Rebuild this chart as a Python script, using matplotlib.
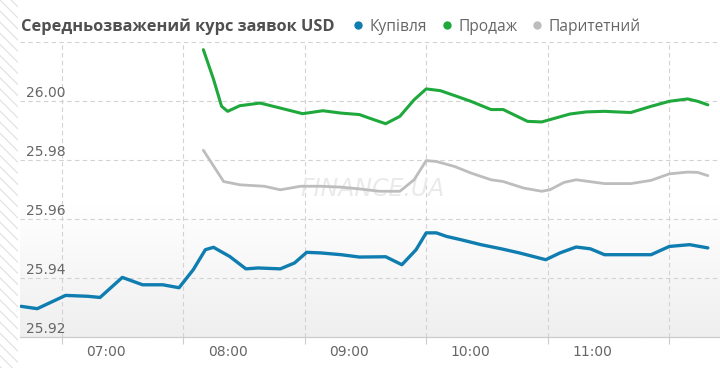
import matplotlib.pyplot as plt
import matplotlib.transforms as mtransforms
from matplotlib.patches import Rectangle
from matplotlib.colors import LinearSegmentedColormap
import numpy as np

# ---- data ----
buy_time = ["06:18", "06:26", "06:40", "06:51", "06:57", "07:08", "07:18", "07:28", "07:36",
            "07:43", "07:49", "07:53", "08:01", "08:09", "08:15", "08:26", "08:33", "08:39",
            "08:46", "08:56", "09:05", "09:18", "09:26", "09:33", "09:38", "09:43", "09:48",
            "09:55", "10:05", "10:15", "10:24", "10:37", "10:44", "10:52", "10:59", "11:06",
            "11:19", "11:29", "11:38", "11:48", "11:57"]
buy_rate = [25.9304, 25.9296, 25.9341, 25.9338, 25.9334, 25.9402, 25.9377, 25.9377, 25.9367,
            25.9428, 25.9496, 25.9504, 25.9473, 25.9431, 25.9434, 25.9431, 25.9451, 25.9487,
            25.9485, 25.9479, 25.9471, 25.9472, 25.9445, 25.9496, 25.9553, 25.9553, 25.9541,
            25.9530, 25.9513, 25.9499, 25.9485, 25.9462, 25.9485, 25.9505, 25.9499, 25.9479,
            25.9479, 25.9479, 25.9507, 25.9513, 25.9502]

sell_time = ["07:48", "07:53", "07:57", "08:00", "08:06", "08:16", "08:26", "08:37", "08:47",
             "08:56", "09:05", "09:12", "09:18", "09:25", "09:32", "09:38", "09:45", "09:53",
             "10:00", "10:10", "10:16", "10:28", "10:35", "10:49", "10:57", "11:06", "11:12",
             "11:19", "11:29", "11:38", "11:47", "11:52", "11:57"]
sell_rate = [26.0174, 26.0074, 25.9982, 25.9965, 25.9984, 25.9993, 25.9976, 25.9957, 25.9967,
             25.9959, 25.9954, 25.9937, 25.9923, 25.9948, 26.0004, 26.0041, 26.0035, 26.0016,
             25.9999, 25.9971, 25.9971, 25.9931, 25.9929, 25.9956, 25.9963, 25.9965, 25.9963,
             25.9961, 25.9982, 25.9999, 26.0007, 25.9999, 25.9987]

par_time = ["07:48", "07:58", "08:06", "08:18", "08:26", "08:36", "08:46", "08:56", "09:05",
            "09:15", "09:25", "09:32", "09:38", "09:43", "09:52", "10:00", "10:10", "10:16",
            "10:26", "10:35", "10:39", "10:46", "10:52", "11:06", "11:19", "11:29", "11:38",
            "11:47", "11:52", "11:57"]
par_rate = [25.9833, 25.9727, 25.9716, 25.9711, 25.9699, 25.9711, 25.9711, 25.9708, 25.9702,
            25.9694, 25.9694, 25.9733, 25.9798, 25.9795, 25.9778, 25.9756, 25.9733, 25.9727,
            25.9705, 25.9694, 25.9699, 25.9724, 25.9733, 25.9720, 25.9720, 25.9731, 25.9753,
            25.9759, 25.9758, 25.9747]

hour_labels = ["07:00", "08:00", "09:00", "10:00", "11:00"]
y_ticks = [25.92, 25.94, 25.96, 25.98, 26.00]


def to_min(s):
    h, m = s.split(":")
    return int(h) * 60 + int(m)


blue = "#0f7db0"
green = "#1fa83c"
grey = "#bdbdbd"
txt = "#666666"

plt.rcParams["hatch.linewidth"] = 0.8

fig = plt.figure(figsize=(7.2, 3.68), dpi=100)
fig.patch.set_facecolor("white")

# hatched strip on the left
fig.add_artist(Rectangle((0, 0), 18 / 720, 1, transform=fig.transFigure,
                         facecolor="white", edgecolor="#e0e0e0", hatch="\\\\\\", lw=0))

ax = fig.add_axes([20 / 720, 31 / 368, 700 / 720, 295 / 368])

# soft grey gradient at the bottom of the plot area
cmap = LinearSegmentedColormap.from_list("bg", ["#ffffff", "#f7f7f7", "#efefef"])
grad = np.linspace(0, 1, 100).reshape(-1, 1)
ax.imshow(grad, extent=[0, 1, 0, 0.45], transform=ax.transAxes, aspect="auto",
          cmap=cmap, zorder=0)
ax.set_xlim(377.5, 723)
ax.set_ylim(25.92, 26.02)

# grid
for v in [25.94, 25.96, 25.98, 26.00, 26.02]:
    ax.axhline(v, color="#d2d2d2", lw=0.8, ls=(0, (4, 3)), zorder=1)
grid_x = [h * 60 - 22 for h in range(7, 13)]
for gx in grid_x:
    ax.axvline(gx, color="#d2d2d2", lw=0.8, ls=(0, (4, 3)), zorder=1)

# watermark
ax.text(0.503, 0.5, "FINANCE.UA", transform=ax.transAxes,
        fontsize=17, style="italic", color="#eaeaea", ha="center", va="center",
        zorder=1)

ax.plot([to_min(t) for t in par_time], par_rate, color=grey, lw=2.0,
        solid_joinstyle="round", solid_capstyle="round", zorder=3)
ax.plot([to_min(t) for t in sell_time], sell_rate, color=green, lw=2.2,
        solid_joinstyle="round", solid_capstyle="round", zorder=3)
ax.plot([to_min(t) for t in buy_time], buy_rate, color=blue, lw=2.4,
        solid_joinstyle="round", solid_capstyle="round", zorder=3)

# axes styling
for s in ["top", "right", "left"]:
    ax.spines[s].set_visible(False)
ax.spines["bottom"].set_color("#cccccc")
ax.spines["bottom"].set_linewidth(0.9)
ax.set_yticks([])
ax.set_xticks([to_min(h) for h in hour_labels])
ax.set_xticklabels(hour_labels, fontsize=10, color=txt)
ax.tick_params(axis="x", which="major", length=0, pad=6)
ax.set_xticks(grid_x, minor=True)
ax.tick_params(axis="x", which="minor", length=5, color="#cccccc", width=0.8)

# y labels inside the plot, just above their gridline
trans = mtransforms.offset_copy(ax.get_yaxis_transform(), fig=fig, x=0, y=4, units="dots")
for v in y_ticks:
    ax.text(6 / 700, v, f"{v:.2f}", transform=trans, fontsize=10, color=txt,
            ha="left", va="baseline", zorder=4)

# title + legend
fig.text(21 / 720, 1 - 27 / 368, "Середньозважений курс заявок USD", fontsize=11.8,
         fontweight="bold", color="#505050", family="Open Sans", va="center")
legend = [("Купівля", blue, 358, 370), ("Продаж", green, 447, 459),
          ("Паритетний", grey, 537, 549)]
for name, col, dx, tx in legend:
    fig.add_artist(plt.Line2D([dx / 720], [1 - 25 / 368], marker="o", markersize=5,
                              color=col, transform=fig.transFigure))
    fig.text(tx / 720, 1 - 27 / 368, name, fontsize=11.2, color=txt,
             family="Open Sans", va="center")

plt.savefig("out.png", dpi=100)
